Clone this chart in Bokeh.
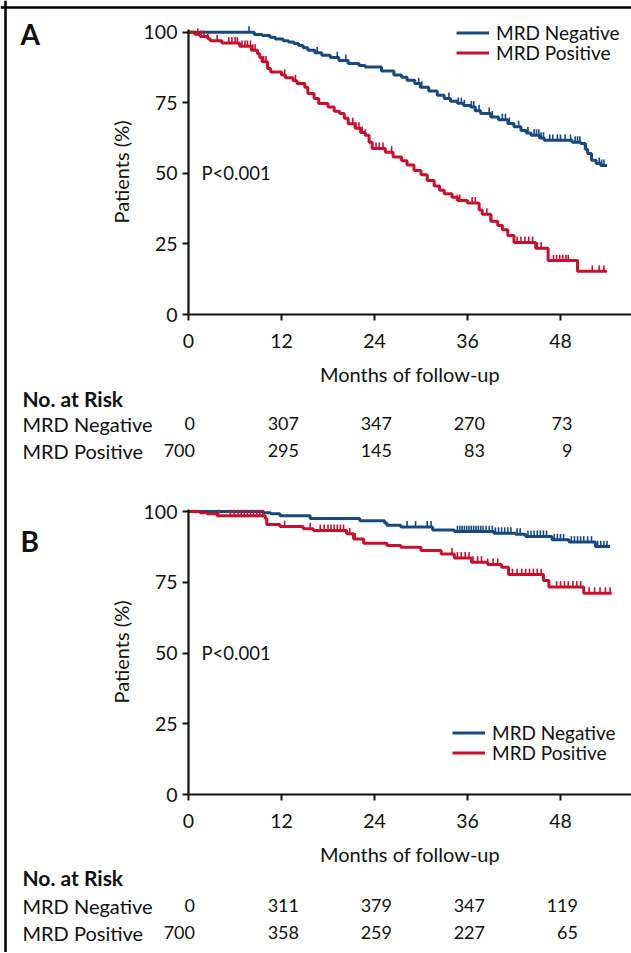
import numpy as np
from bokeh.plotting import figure
from bokeh.models import (Range1d, Legend, LegendItem, FixedTicker, ColumnDataSource, Span, LinearAxis)
from bokeh.embed import file_html
from bokeh.resources import INLINE
from bokeh.core.properties import value

BLUE = "#16497e"
RED = "#c8102e"
INK = "#111111"
FONT = "Lato"

# ---------------- data ----------------
month_ticks = [0, 12, 24, 36, 48]
pct_ticks = [0, 25, 50, 75, 100]
series_names = ["MRD Negative", "MRD Positive"]
panel_letters = ["A", "B"]
risk_title = "No. at Risk"
p_text = "P<0.001"
x_title = "Months of follow-up"
y_title = "Patients (%)"

# Panel A – step change points (months, % patients)
negA_t = [0, 8.5, 9.5, 10.5, 11.2, 12.2, 12.9, 13.6, 14.2, 14.8, 15.4, 16.3, 17.2, 18.3, 19.4, 20.6, 22.0, 22.8,
          24.9, 26.5, 27.5, 28.2, 29.2, 29.9, 31.0, 32.1, 33.0, 33.8, 34.7, 35.5, 36.4, 37.0, 37.7, 39.0, 40.0,
          41.2, 42.0, 42.9, 43.6, 44.2, 45.3, 45.9, 49.5, 50.6, 51.2, 51.5, 52.0, 52.6, 53.2]
negA_s = [100, 99.2, 98.8, 98.2, 97.6, 97.0, 96.5, 96.0, 95.3, 94.5, 93.6, 92.7, 91.8, 91.0, 90.0, 88.9, 88.2, 87.7,
          86.3, 84.8, 84.0, 83.0, 81.8, 80.5, 79.2, 77.7, 76.5, 75.5, 74.8, 74.0, 73.5, 72.2, 71.2, 70.0, 69.0,
          67.7, 66.5, 65.2, 64.3, 63.5, 62.5, 61.7, 61.0, 60.6, 58.5, 57.0, 54.6, 53.5, 52.8]
negA_end = 54.0
negA_cens = [7.8, 16.6, 19.2, 20.3, 29.7, 30.1, 33.6, 34.8, 35.2, 35.6, 36.5, 36.8, 37.5, 38.8, 39.2, 40.5, 40.9,
             41.4, 42.6, 43.8, 44.6, 44.9, 45.2, 45.5, 45.8, 46.6, 47.0, 47.6, 48.0, 48.6, 49.3, 49.9, 50.2, 50.5,
             51.3, 53.0, 53.3, 53.6]

posA_t = [0, 0.8, 1.5, 2.5, 2.8, 4.3, 6.6, 8.1, 8.9, 9.2, 9.5, 10.2, 10.6, 12.0, 12.5, 13.5, 14.0, 15.0, 15.4,
          16.2, 16.8, 18.0, 18.8, 19.5, 20.1, 20.6, 21.5, 22.2, 22.8, 23.3, 23.7, 25.4, 26.4, 27.5, 28.2, 29.1,
          30.0, 30.8, 31.7, 32.4, 33.0, 34.0, 34.7, 36.0, 37.5, 37.9, 39.0, 39.9, 40.5, 41.2, 42.0, 44.8, 46.4,
          50.2]
posA_s = [100, 99.3, 98.5, 97.7, 97.0, 96.2, 95.0, 93.6, 92.4, 91.0, 89.5, 87.1, 85.9, 84.8, 83.9, 82.8, 81.8,
          80.5, 78.3, 76.5, 74.7, 73.5, 72.0, 71.2, 69.5, 67.6, 66.0, 64.5, 63.5, 61.0, 58.8, 57.5, 55.8, 54.5,
          53.0, 51.0, 49.5, 47.5, 45.5, 44.0, 42.8, 41.5, 40.4, 39.5, 37.0, 35.5, 33.0, 31.5, 30.0, 28.0, 25.5,
          23.5, 19.1, 15.3]
posA_end = 54.0
posA_cens = [1.2, 1.6, 2.0, 2.5, 3.7, 5.2, 5.6, 6.0, 6.3, 6.9, 7.3, 7.6, 8.0, 8.3, 8.6, 9.7, 10.0, 12.4, 13.8,
             21.2, 21.6, 22.0, 22.4, 22.8, 24.2, 24.6, 25.1, 26.2, 34.7, 35.0, 36.6, 37.0, 38.5, 39.1, 42.4,
             42.9, 43.4, 43.9, 44.4, 45.0, 45.5, 47.1, 47.5, 47.9, 48.3, 48.7, 49.0, 52.1, 53.0, 53.6]

# Panel B
negB_t = [0, 9.7, 10.6, 11.8, 15.7, 22.1, 25.3, 25.6, 27.4, 31.5, 34.3, 39.4, 42.2, 43.5, 46.9, 49.1, 52.5]
negB_s = [100, 99.6, 99.2, 98.5, 97.5, 96.7, 95.9, 95.1, 94.5, 93.5, 92.9, 92.3, 92.0, 91.2, 90.0, 89.2, 87.6]
negB_end = 54.4
negB_cens = [28.2, 29.3, 30.8, 31.3, 34.7, 35.0, 35.3, 35.6, 35.9, 36.2, 36.5, 36.8, 37.1, 37.4, 37.7, 38.0,
             38.4, 38.8, 39.2, 39.6, 40.0, 40.4, 40.8, 41.2, 41.6, 42.4, 42.8, 43.8, 44.2, 44.6, 45.0, 45.4,
             45.8, 46.2, 47.2, 47.6, 48.0, 48.4, 49.4, 49.8, 50.2, 50.6, 51.0, 51.5, 52.0, 52.8, 53.2, 53.6,
             54.0]

posB_t = [0, 1.5, 2.4, 3.7, 9.9, 10.1, 11.8, 14.8, 16.1, 20.4, 21.3, 22.6, 25.6, 27.4, 30.0, 32.6, 34.3, 36.5,
          38.6, 40.4, 41.3, 45.8, 46.5, 51.0]
posB_s = [100, 99.6, 99.2, 98.5, 97.5, 95.4, 94.7, 93.9, 93.3, 92.1, 90.3, 88.8, 88.0, 87.4, 86.2, 85.0, 83.6,
          82.1, 81.3, 80.3, 77.7, 75.6, 73.3, 71.1]
posB_end = 54.6
posB_cens = [3.9, 5.4, 5.9, 6.4, 6.8, 7.2, 7.6, 8.0, 8.4, 8.8, 9.2, 9.6, 12.4, 15.7, 17.0, 17.5, 18.0, 18.4,
             18.8, 19.2, 19.6, 20.0, 20.8, 21.5, 34.0, 34.7, 35.2, 35.7, 36.2, 36.7, 37.3, 37.8, 38.6, 39.3,
             39.9, 41.8, 42.4, 43.0, 43.5, 44.0, 44.5, 45.0, 45.5, 47.5, 48.0, 48.5, 49.0, 49.6, 50.1, 50.6,
             51.7, 52.4, 53.1, 53.8, 54.4]

riskA_neg = [0, 307, 347, 270, 73]
riskA_pos = [700, 295, 145, 83, 9]
riskB_neg = [0, 311, 379, 347, 119]
riskB_pos = [700, 358, 259, 227, 65]

# ---------------- layout constants (pixels) ----------------
W, H = 631, 952
X0_PX = 188.0          # page x of month 0
PX_PER_MONTH = 7.75
X_START = -X0_PX / PX_PER_MONTH
X_END = (W - X0_PX) / PX_PER_MONTH
Y_TOP = 100.8
TICK_H = 2.1


def xp(px):
    return (px - X0_PX) / PX_PER_MONTH


def surv_at(ts, ss, times):
    idx = np.searchsorted(np.array(ts), np.array(times), side="right") - 1
    return [ss[i] for i in idx]


# per-panel vertical geometry: page y of 0 %, px per %
GEOM = {"A": (314.0, 2.823), "B": (794.0, 2.83)}


def yconv(name):
    zero, per = GEOM[name]
    return lambda py: (zero - py) / per


yA, yB = yconv("A"), yconv("B")
p = figure(width=W, height=H, x_range=Range1d(X_START, X_END), y_range=Range1d(yA(H), yA(0)),
           output_backend="svg", toolbar_location=None,
           min_border=0, min_border_left=0, min_border_right=0, min_border_top=0, min_border_bottom=0)
p.extra_y_ranges = {"B": Range1d(yB(H), yB(0))}
p.grid.visible = False
p.outline_line_color = None
p.background_fill_color = "white"
p.border_fill_color = "white"


def style_axis(ax, ticks, bounds, label, tick_standoff, label_standoff):
    ax.ticker = FixedTicker(ticks=ticks)
    ax.fixed_location = 0
    ax.bounds = bounds
    ax.axis_line_width = 2.2
    ax.axis_line_color = INK
    ax.major_tick_line_width = 2
    ax.major_tick_line_color = INK
    ax.major_tick_out = 6
    ax.major_tick_in = 0
    ax.minor_tick_line_color = None
    ax.major_label_text_font = FONT
    ax.major_label_text_font_size = "19.5px"
    ax.major_label_text_color = INK
    ax.axis_label = label
    ax.axis_label_text_font = FONT
    ax.axis_label_text_font_size = "20px"
    ax.axis_label_text_font_style = "normal"
    ax.axis_label_text_color = INK
    ax.major_label_standoff = tick_standoff
    ax.axis_label_standoff = label_standoff


# axes of panel A (default ranges) and panel B (extra y range "B")
style_axis(p.xaxis[0], month_ticks, (0, X_END), x_title, 13, 11)
style_axis(p.yaxis[0], pct_ticks, (0, Y_TOP), y_title, 5, 8)
xB = LinearAxis(y_range_name="B")
yBax = LinearAxis(y_range_name="B")
p.add_layout(xB, "below")
p.add_layout(yBax, "left")
style_axis(xB, month_ticks, (0, X_END), x_title, 13, 11)
style_axis(yBax, pct_ticks, (0, Y_TOP), y_title, 5, 8)

panels = [
    dict(name="A", conv=yA, curves=[(negA_t, negA_s, negA_end, negA_cens, BLUE),
                                    (posA_t, posA_s, posA_end, posA_cens, RED)],
         risk=(riskA_neg, riskA_pos), letter_py=33, leg_rows=(33.3, 52.7), leg_x=456,
         risk_rows=(398, 423, 450)),
    dict(name="B", conv=yB, curves=[(negB_t, negB_s, negB_end, negB_cens, BLUE),
                                    (posB_t, posB_s, posB_end, posB_cens, RED)],
         risk=(riskB_neg, riskB_pos), letter_py=540, leg_rows=(733, 753), leg_x=452,
         risk_rows=(877, 905, 932)),
]

for letter, P in zip(panel_letters, panels):
    rn = "default" if P["name"] == "A" else "B"
    yp = P["conv"]
    for i, (name, (ts, ss, end, cens, col)) in enumerate(zip(series_names, P["curves"])):
        xs = list(ts) + [end]
        ys = list(ss) + [ss[-1]]
        r = p.step(xs, ys, mode="after", line_color=col, line_width=3, y_range_name=rn)
        cy = surv_at(ts, ss, cens)
        p.segment(x0=cens, y0=cy, x1=cens, y1=[v + TICK_H for v in cy], line_color=col, line_width=1.6,
                  y_range_name=rn)
        leg = Legend(items=[LegendItem(label=name, renderers=[r])],
                     location=(P["leg_x"], H - (P["leg_rows"][i] + 11)),
                     glyph_width=33, glyph_height=19, label_height=19, label_standoff=7,
                     spacing=0, padding=0, margin=0,
                     label_text_font=FONT, label_text_font_size="19px", label_text_color=INK,
                     border_line_color=None, background_fill_alpha=0)
        p.add_layout(leg, "center")

    # panel letter and p-value
    p.text(x=[xp(20)], y=[yp(P["letter_py"])], text=[letter], text_font=value(FONT), text_font_style="bold",
           text_font_size="28px", text_baseline="middle", text_color=INK, y_range_name=rn)
    p.text(x=[xp(201)], y=[50], text=[p_text], text_font=value(FONT), text_font_size="18.5px",
           text_baseline="middle", text_color=INK, y_range_name=rn)

    # number-at-risk table
    rows = P["risk_rows"]
    neg, pos = P["risk"]
    lab_x = xp(22)
    p.text(x=[lab_x], y=[yp(rows[0])], text=[risk_title], text_font=value(FONT),
           text_font_style="bold", text_font_size="21px", text_baseline="middle", text_color=INK,
           y_range_name=rn)
    p.text(x=[lab_x, lab_x], y=[yp(rows[1]), yp(rows[2])], text=series_names,
           text_font=value(FONT), text_font_size="20px", text_baseline="middle", text_color=INK,
           y_range_name=rn)
    anchors = [m + (len(str(a)) * 5.5 + 1) / PX_PER_MONTH for m, a in zip(month_ticks, neg)]
    src = ColumnDataSource(dict(x=anchors * 2,
                                y=[yp(rows[1])] * 5 + [yp(rows[2])] * 5,
                                t=[str(v) for v in neg] + [str(v) for v in pos]))
    p.text(x="x", y="y", text="t", source=src, text_font=value(FONT), text_font_size="18px",
           text_align="right", text_baseline="middle", text_color=INK, y_range_name=rn)

# outer frame of the composite figure: left edge and top edge
p.add_layout(Span(location=xp(5), dimension="height", line_color="#000000", line_width=2.5))
p.add_layout(Span(location=yA(7), dimension="width", line_color="#000000", line_width=2.5))

open("out.html", "w").write(file_html(p, INLINE))
